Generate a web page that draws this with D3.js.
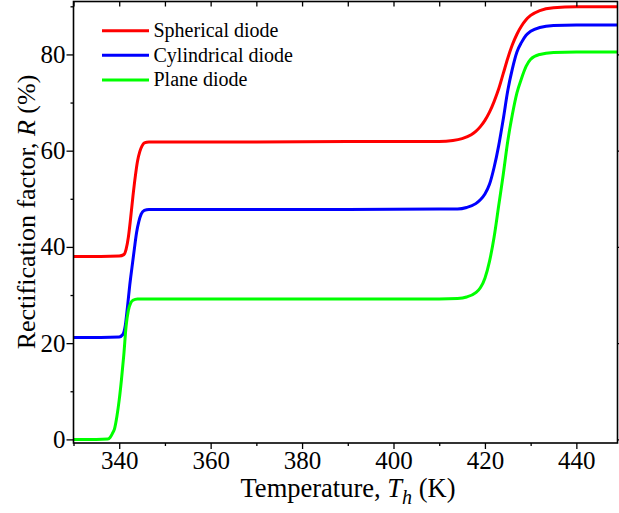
<!DOCTYPE html>
<html>
<head>
<meta charset="utf-8">
<script src="https://cdn.jsdelivr.net/npm/d3@7"></script>
<style>
  body { margin: 0; background: #fff; }
  svg { display: block; font-family: 'Liberation Serif', 'Times New Roman', serif; }
</style>
</head>
<body>
<svg width="619" height="513"></svg>
<script>
// values
var seriesNames = ['Spherical diode', 'Cylindrical diode', 'Plane diode'];
var seriesColors = ['#ff0000', '#0000ff', '#00ff00'];

var tSpherical = [330, 336, 340, 341, 341.5, 342, 342.5, 343, 343.5, 344, 344.5, 345, 345.5, 346.5, 350, 370, 390, 410,
  413, 415, 417, 418, 419, 420, 421, 422, 423, 424, 425, 426, 427, 428, 429, 430, 432, 435, 440, 450];
var rSpherical = [38, 38, 38.1, 38.4, 39.5, 42, 46, 50.5, 54.5, 57.8, 59.8, 61, 61.6, 61.8, 61.8, 61.8, 61.9, 61.9,
  62.1, 62.5, 63.3, 64, 65, 66.3, 68, 70.2, 72.8, 76, 79.2, 82, 84.2, 85.9, 87.2, 88.1, 89.1, 89.7, 89.9, 89.9];

var tCylindrical = [330, 336, 340, 340.8, 341.3, 341.8, 342.3, 342.8, 343.3, 343.8, 344.3, 344.8, 345.5, 346.5, 350, 370, 390, 410,
  414, 416, 418, 419, 420, 421, 422, 423, 424, 425, 426, 427, 428, 429, 430, 432, 435, 440, 450];
var rCylindrical = [21.2, 21.2, 21.3, 21.8, 23.5, 27.5, 32, 35.8, 39.5, 43, 45.3, 46.8, 47.6, 47.8, 47.8, 47.8, 47.8, 47.9,
  47.9, 48.2, 49, 49.8, 51, 53, 56.5, 61, 66.5, 72.5, 77, 80.5, 82.5, 84, 84.8, 85.6, 86, 86.1, 86.1];

var tPlane = [330, 335, 337.5, 338, 338.5, 339, 339.5, 340, 340.5, 341, 341.5, 342, 342.5, 343, 344, 346, 370, 390, 410,
  414, 416, 418, 419, 420, 421, 422, 423, 424, 425, 426, 427, 428, 429, 430, 432, 435, 440, 450];
var rPlane = [0, 0, 0.1, 0.4, 1.2, 2.3, 4.8, 8.2, 12.5, 17.5, 23.5, 26.8, 28.3, 28.9, 29.2, 29.2, 29.2, 29.2, 29.2,
  29.3, 29.6, 30.5, 31.5, 33.5, 37, 42, 48.5, 55, 62, 67.5, 72, 75, 77.5, 79, 80, 80.4, 80.5, 80.5];

var xTicks = [340, 360, 380, 400, 420, 440];
var xMinor = [330, 350, 370, 390, 410, 430, 450];
var yTicks = [0, 20, 40, 60, 80];
var yMinor = [10, 30, 50, 70, 90];

var series = [
  { name: seriesNames[0], color: seriesColors[0], t: tSpherical, r: rSpherical },
  { name: seriesNames[1], color: seriesColors[1], t: tCylindrical, r: rCylindrical },
  { name: seriesNames[2], color: seriesColors[2], t: tPlane, r: rPlane }
];

var svg = d3.select('svg');
var pLeft = 73.5, pRight = 617.5, pTop = 1.5, pBottom = 443;

var x = d3.scaleLinear().domain([330, 449]).range([pLeft, pRight]);
var y = d3.scaleLinear().domain([-0.75, 91]).range([pBottom, pTop]);

svg.append('clipPath').attr('id', 'clip')
  .append('rect')
  .attr('x', pLeft).attr('y', pTop)
  .attr('width', pRight - pLeft).attr('height', pBottom - pTop);

var line = d3.line()
  .x(function (d) { return x(d[0]); })
  .y(function (d) { return y(d[1]); })
  .curve(d3.curveMonotoneX);

svg.append('g')
  .attr('clip-path', 'url(#clip)')
  .selectAll('path')
  .data(series)
  .enter()
  .append('path')
  .attr('d', function (s) { return line(d3.zip(s.t, s.r)); })
  .attr('fill', 'none')
  .attr('stroke', function (s) { return s.color; })
  .attr('stroke-width', 3)
  .attr('stroke-linejoin', 'round');

// axes
function styleAxis(g) {
  g.select('.domain').remove();
  g.selectAll('.tick line').attr('stroke', '#000').attr('stroke-width', 1.3);
  g.selectAll('.tick text').attr('fill', '#000').style('font-size', '25px')
    .style('font-family', "'Liberation Serif', serif");
}

svg.append('g')
  .attr('transform', 'translate(0,' + pBottom + ')')
  .call(d3.axisBottom(x).tickValues(xTicks).tickSize(6).tickPadding(2).tickFormat(d3.format('d')))
  .call(styleAxis);
svg.append('g')
  .attr('transform', 'translate(0,' + pBottom + ')')
  .call(d3.axisBottom(x).tickValues(xMinor).tickSize(3).tickFormat(''))
  .call(styleAxis);

svg.append('g')
  .attr('transform', 'translate(0,' + pTop + ')')
  .call(d3.axisBottom(x).tickValues(xTicks.concat(xMinor)).tickSize(5).tickFormat(''))
  .call(styleAxis);

svg.append('g')
  .attr('transform', 'translate(' + pLeft + ',0)')
  .call(d3.axisLeft(y).tickValues(yTicks).tickSize(7).tickPadding(1).tickFormat(d3.format('d')))
  .call(styleAxis);
svg.append('g')
  .attr('transform', 'translate(' + pLeft + ',0)')
  .call(d3.axisLeft(y).tickValues(yMinor).tickSize(3).tickFormat(''))
  .call(styleAxis);

svg.append('g')
  .attr('transform', 'translate(' + pRight + ',0)')
  .call(d3.axisRight(y).tickValues(yTicks).tickSize(4).tickFormat(''))
  .call(styleAxis);

// frame
svg.append('rect')
  .attr('x', pLeft).attr('y', pTop)
  .attr('width', pRight - pLeft).attr('height', pBottom - pTop)
  .attr('fill', 'none').attr('stroke', '#000').attr('stroke-width', 1.6);

// axis titles
var xt = svg.append('text')
  .attr('x', 348).attr('y', 497)
  .attr('text-anchor', 'middle')
  .style('font-size', '26.5px');
xt.append('tspan').text('Temperature, ');
xt.append('tspan').style('font-style', 'italic').text('T');
xt.append('tspan').style('font-style', 'italic').style('font-size', '20px').attr('dy', 7).text('h');
xt.append('tspan').attr('dy', -7).text(' (K)');

var yt = svg.append('text')
  .attr('transform', 'translate(35,212) rotate(-90)')
  .attr('text-anchor', 'middle')
  .style('font-size', '26px');
yt.append('tspan').text('Rectification factor, ');
yt.append('tspan').style('font-style', 'italic').text('R');
yt.append('tspan').text(' (%)');

// legend
var legend = svg.append('g')
  .selectAll('g')
  .data(series)
  .enter()
  .append('g')
  .attr('transform', function (d, i) { return 'translate(102,' + (30.7 + i * 24.6) + ')'; });

legend.append('line')
  .attr('x1', 0).attr('x2', 47)
  .attr('stroke', function (d) { return d.color; })
  .attr('stroke-width', 3);

legend.append('text')
  .attr('x', 51.5).attr('y', 6.5)
  .style('font-size', '20px')
  .text(function (d) { return d.name; });
</script>
</body>
</html>
